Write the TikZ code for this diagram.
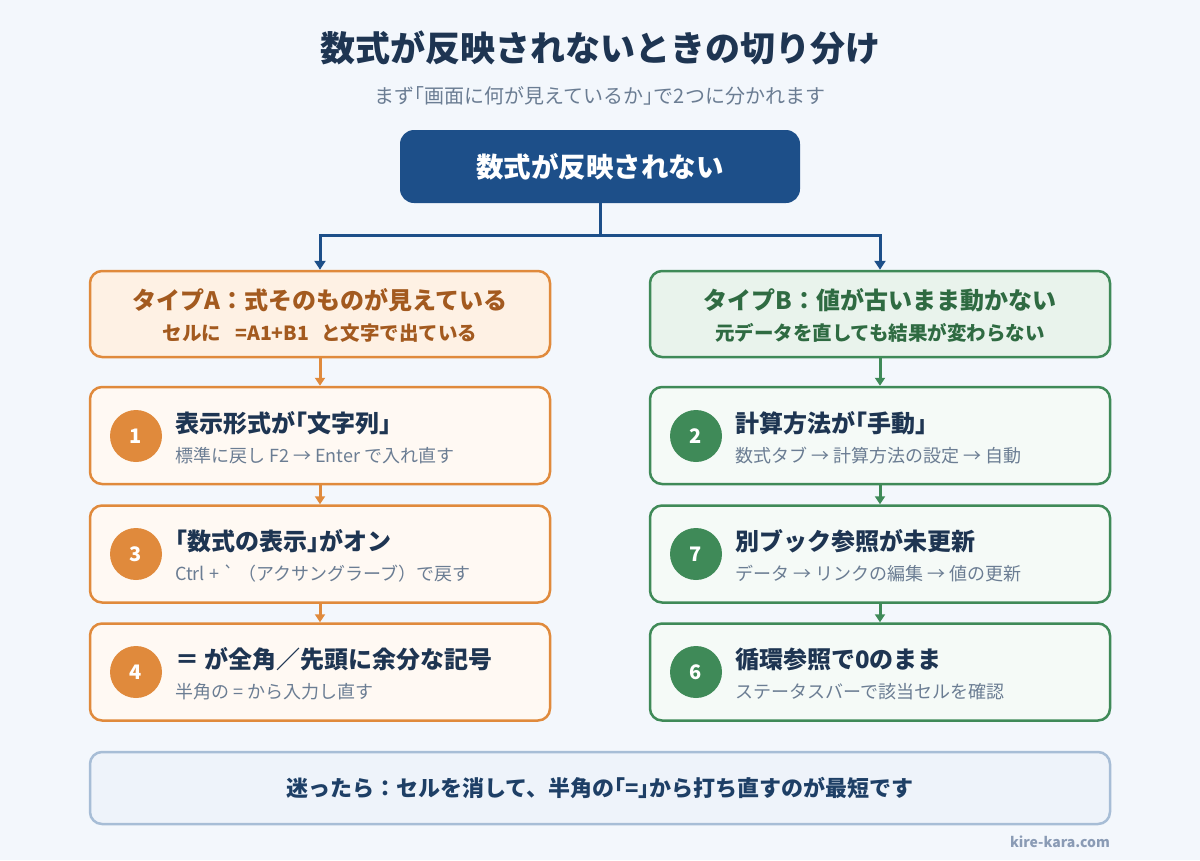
\documentclass[tikz,border=0pt]{standalone}
\usepackage{fontspec}
\newfontfamily\jp{Noto Sans CJK JP}
\newfontfamily\jph{Noto Sans CJK JP}[RawFeature=+halt]
\newcommand{\lbk}{{\jph 「}}
\newcommand{\rbk}{{\jph 」}}
\usetikzlibrary{arrows.meta}
\definecolor{bg}{HTML}{F3F7FC}
\definecolor{navy}{HTML}{1E3552}
\definecolor{topfill}{HTML}{1D4F89}
\definecolor{orng}{HTML}{E08A3C}
\definecolor{ofill}{HTML}{FEF1E4}
\definecolor{oitem}{HTML}{FFF9F3}
\definecolor{brown}{HTML}{A35A1F}
\definecolor{grn}{HTML}{3F8A58}
\definecolor{gfill}{HTML}{E9F3EC}
\definecolor{gitem}{HTML}{F5FAF7}
\definecolor{gtext}{HTML}{2F6B42}
\definecolor{graytext}{HTML}{6B7D93}
\definecolor{botfill}{HTML}{EEF3FA}
\definecolor{botline}{HTML}{A7BDD6}
\definecolor{bottext}{HTML}{1E3F66}
\definecolor{site}{HTML}{8A9BB5}
\tikzset{
  box/.style={rounded corners=12pt, line width=2.5pt, minimum width=460pt, inner sep=0pt},
  typeabox/.style={box, draw=orng, fill=ofill, minimum height=86pt},
  typebbox/.style={box, draw=grn, fill=gfill, minimum height=86pt},
  aitem/.style={box, draw=orng, fill=oitem, minimum height=97pt},
  bitem/.style={box, draw=grn, fill=gitem, minimum height=97pt},
  badge/.style={circle, minimum size=52pt, inner sep=0pt, text=white, font=\jp\bfseries\fontsize{20}{24}\selectfont},
  abadge/.style={badge, fill=orng},
  bbadge/.style={badge, fill=grn},
  itemtitle/.style={anchor=west, inner sep=0pt, text=navy, font=\jp\bfseries\fontsize{24}{28}\selectfont},
  itemsub/.style={anchor=west, inner sep=0pt, text=graytext, font=\jp\fontsize{18}{21}\selectfont},
  bconn/.style={draw=topfill, line width=3pt, -{Triangle[length=9pt,width=11pt]}},
  oconn/.style={draw=orng, line width=3pt, -{Triangle[length=8pt,width=10pt]}},
  gconn/.style={draw=grn, line width=3pt, -{Triangle[length=8pt,width=10pt]}},
}
\begin{document}
\begin{tikzpicture}[x=1pt,y=-1pt]
\useasboundingbox[fill=bg] (0,0) rectangle (1200,860);
% title
\node[text=navy, font=\jp\bfseries\fontsize{35}{40}\selectfont] (title) at (600,48) {数式が反映されないときの切り分け};
\node[text=graytext, font=\jp\fontsize{20}{24}\selectfont] (subtitle) at (600,96) {まず\lbk 画面に何が見えているか\rbk で2つに分かれます};
% top box
\node[rounded corners=14pt, fill=topfill, minimum width=400pt, minimum height=73pt, text=white, font=\jp\bfseries\fontsize{27.5}{32}\selectfont] (top) at (600,166.5) {数式が反映されない};
% type boxes
\node[typeabox] (ta) at (320,314) {};
\node[typebbox] (tb) at (880,314) {};
\node[text=brown, font=\jp\bfseries\fontsize{24}{28}\selectfont, inner sep=0pt] (tat) at (320,300) {タイプA：式そのものが見えている};
\node[text=brown, font=\jp\bfseries\fontsize{19.5}{23}\selectfont, inner sep=0pt] (tas) at (320,333) {セルに\hspace{14pt}=A1+B1\hspace{12pt}と文字で出ている};
\node[text=gtext, font=\jp\bfseries\fontsize{24}{28}\selectfont, inner sep=0pt] (tbt) at (880,300) {タイプB：値が古いまま動かない};
\node[text=gtext, font=\jp\bfseries\fontsize{19.5}{23}\selectfont, inner sep=0pt] (tbs) at (880,333) {元データを直しても結果が変わらない};
% connectors from top
\draw[bconn] (top.south) -- ++(0,32) -| (ta.north);
\draw[bconn] (top.south) -- ++(0,32) -| (tb.north);
% left items
\node[aitem] (a1) at (320,435.5) {};
\node[abadge] (c1) at (136,436) {1};
\node[itemtitle] (a1t) at (175,423) {表示形式が\lbk 文字列\rbk};
\node[itemsub] (a1s) at (175,456) {標準に戻し F2 → Enter で入れ直す};
\node[aitem] (a3) at (320,554) {};
\node[abadge] (c3) at (136,554) {3};
\node[itemtitle] (a3t) at (175,541) {\lbk 数式の表示\rbk がオン};
\node[itemsub] (a3s) at (175,574) {Ctrl + ` （アクサングラーブ）で戻す};
\node[aitem] (a4) at (320,672) {};
\node[abadge] (c4) at (136,672) {4};
\node[itemtitle] (a4t) at (175,659) {＝ が全角／先頭に余分な記号};
\node[itemsub] (a4s) at (175,692) {半角の = から入力し直す};
% right items
\node[bitem] (b2) at (880,435.5) {};
\node[bbadge] (c2) at (696,436) {2};
\node[itemtitle] (b2t) at (735,423) {計算方法が\lbk 手動\rbk};
\node[itemsub] (b2s) at (735,456) {数式タブ → 計算方法の設定 → 自動};
\node[bitem] (b7) at (880,554) {};
\node[bbadge] (c7) at (696,554) {7};
\node[itemtitle] (b7t) at (735,541) {別ブック参照が未更新};
\node[itemsub] (b7s) at (735,574) {データ → リンクの編集 → 値の更新};
\node[bitem] (b6) at (880,672) {};
\node[bbadge] (c6) at (696,672) {6};
\node[itemtitle] (b6t) at (735,659) {循環参照で0のまま};
\node[itemsub] (b6s) at (735,692) {ステータスバーで該当セルを確認};
% vertical connectors
\draw[oconn] (ta.south) -- (a1.north);
\draw[oconn] (a1.south) -- (a3.north);
\draw[oconn] (a3.south) -- (a4.north);
\draw[gconn] (tb.south) -- (b2.north);
\draw[gconn] (b2.south) -- (b7.north);
\draw[gconn] (b7.south) -- (b6.north);
% bottom
\node[rounded corners=12pt, draw=botline, fill=botfill, line width=2.5pt, minimum width=1020pt, minimum height=72pt, text=bottext, font=\jp\bfseries\fontsize{22}{26}\selectfont] (bot) at (600,788) {迷ったら：セルを消して、半角の\lbk =\rbk から打ち直すのが最短です};
\node[anchor=east, inner sep=0pt, text=site, font=\jp\bfseries\fontsize{14}{17}\selectfont] (site) at (1110,842) {kire-kara.com};
\end{tikzpicture}
\end{document}
